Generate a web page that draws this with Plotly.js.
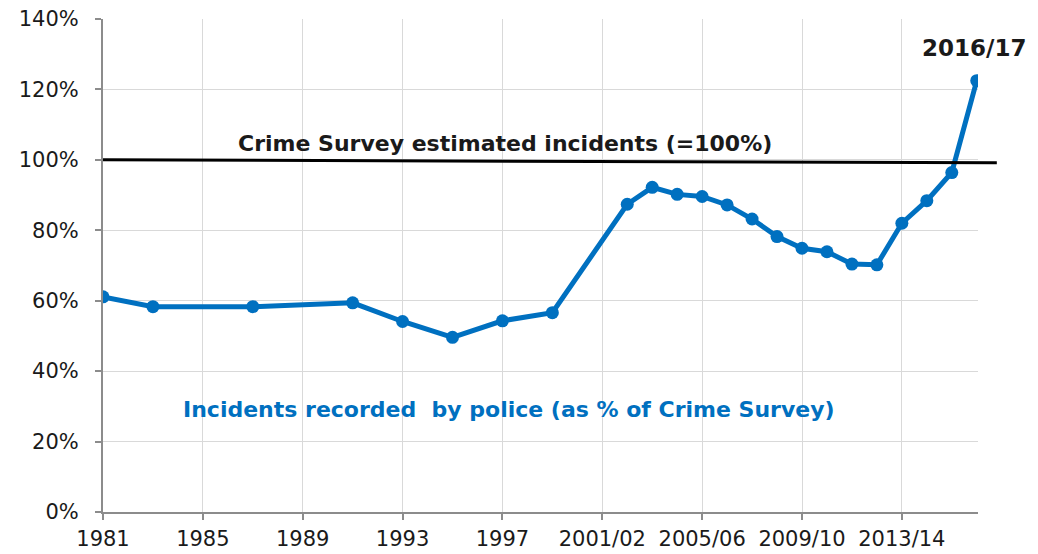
<!DOCTYPE html>
<html>
<head>
<meta charset="utf-8">
<script src="https://cdn.plot.ly/plotly-3.0.1.min.js"></script>
<style>html,body{margin:0;padding:0;background:#fff;}#chart{width:1038px;height:554px;}</style>
</head>
<body>
<div id="chart"></div>
<script>
// One slot per year (financial years from 2001/02)
const periods = ["1981","1982","1983","1984","1985","1986","1987","1988","1989","1990",
  "1991","1992","1993","1994","1995","1996","1997","1998","1999","2000",
  "2001/02","2002/03","2003/04","2004/05","2005/06","2006/07","2007/08","2008/09",
  "2009/10","2010/11","2011/12","2012/13","2013/14","2014/15","2015/16","2016/17"];
// Incidents recorded by police as % of Crime Survey (null = no survey that year)
const policeShare = [61.1,null,58.3,null,null,null,58.3,null,null,null,
  59.4,null,54.1,null,49.6,null,54.3,null,56.6,null,
  null,87.4,92.2,90.2,89.6,87.2,83.2,78.2,
  74.9,73.9,70.4,70.2,82.0,88.4,96.4,122.5];
const tickLabels = ["1981","1985","1989","1993","1997","2001/02","2005/06","2009/10","2013/14"];
const yTicks = [0,20,40,60,80,100,120,140];
const surveyLevel = 100;
const lastLabel = "2016/17";

const blue = "#0070C0";
const font = "DejaVu Sans, Verdana, sans-serif";

const trace = {
  x: periods, y: policeShare, type: "scatter", mode: "lines+markers",
  connectgaps: true,
  line: {color: blue, width: 5},
  marker: {color: blue, size: 13},
  hoverinfo: "skip"
};

const layout = {
  width: 1038, height: 554,
  margin: {l: 103, r: 60, t: 19, b: 42},
  paper_bgcolor: "#fff", plot_bgcolor: "#fff",
  showlegend: false,
  font: {family: font, size: 20, color: "#1a1a1a"},
  xaxis: {
    type: "category", range: [0, 35.05],
    tickmode: "array", tickvals: tickLabels, ticktext: tickLabels,
    showgrid: true, gridcolor: "#d9d9d9", gridwidth: 1,
    showline: true, linecolor: "#8c8c8c", linewidth: 2,
    ticks: "outside", ticklen: 6, tickcolor: "#8c8c8c", tickwidth: 2,
    ticklabelstandoff: 1,
    tickfont: {family: font, size: 21, color: "#1a1a1a"},
    zeroline: false, fixedrange: true
  },
  yaxis: {
    range: [0, 140],
    tickmode: "array", tickvals: yTicks, ticktext: yTicks.map(v => v + "%"),
    showgrid: true, gridcolor: "#d9d9d9", gridwidth: 1,
    showline: true, linecolor: "#8c8c8c", linewidth: 2,
    ticks: "outside", ticklen: 6, tickcolor: "#8c8c8c", tickwidth: 2,
    ticklabelstandoff: 12,
    tickfont: {family: font, size: 21, color: "#1a1a1a"},
    zeroline: false, fixedrange: true
  },
  shapes: [{
    type: "line", xref: "paper", yref: "y",
    x0: 0, x1: 1.0215, y0: surveyLevel, y1: surveyLevel - 0.8,
    line: {color: "#000", width: 3}
  }],
  annotations: [
    {xref: "paper", yref: "y", x: 0.459, y: 104.6, text: "<b>Crime Survey estimated incidents (=100%)</b>",
     showarrow: false, font: {family: font, size: 22, color: "#1a1a1a"}, xanchor: "center", yanchor: "middle"},
    {xref: "x", yref: "y", x: lastLabel, y: 131.9, xshift: -3, text: "<b>" + lastLabel + "</b>",
     showarrow: false, font: {family: font, size: 23, color: "#1a1a1a"}, xanchor: "center", yanchor: "middle"},
    {xref: "paper", yref: "y", x: 0.464, y: 29.2, text: "<b>Incidents recorded  by police (as % of Crime Survey)</b>",
     showarrow: false, font: {family: font, size: 22, color: blue}, xanchor: "center", yanchor: "middle"}
  ]
};

Plotly.newPlot("chart", [trace], layout, {displayModeBar: false, staticPlot: true});
</script>
</body>
</html>
